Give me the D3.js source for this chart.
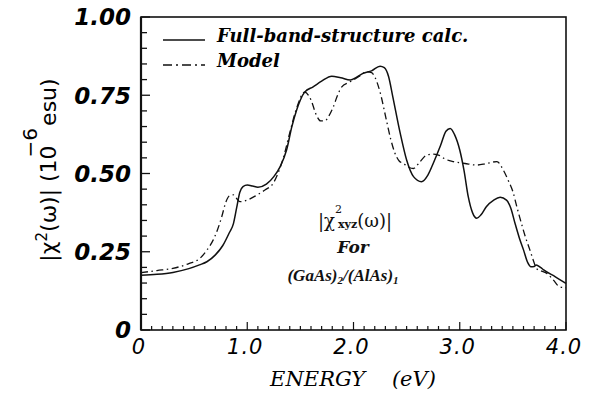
<!DOCTYPE html>
<html>
<head>
<meta charset="utf-8">
<script src="https://cdn.jsdelivr.net/npm/d3@7"></script>
<style>
body { margin: 0; background: #fff; }
svg { display: block; }
text { white-space: pre; }
</style>
</head>
<body>
<div id="graph"></div>
<script>
// energy (eV) and |chi2| (1e-6 esu)
const fullE = [0.00, 0.15, 0.30, 0.45, 0.55, 0.62, 0.70, 0.77, 0.83, 0.87, 0.90, 0.93, 0.96, 1.00, 1.05, 1.10, 1.18, 1.25, 1.31, 1.37, 1.42, 1.465, 1.50, 1.54, 1.62, 1.70, 1.795, 1.88, 1.97, 2.03, 2.09, 2.17, 2.25, 2.29, 2.33, 2.37, 2.44, 2.50, 2.565, 2.64, 2.70, 2.75, 2.82, 2.87, 2.91, 2.95, 3.00, 3.04, 3.08, 3.12, 3.16, 3.20, 3.25, 3.32, 3.38, 3.44, 3.48, 3.52, 3.56, 3.60, 3.64, 3.67, 3.70, 3.72, 3.76, 3.79, 3.90, 4.00];
const fullV = [0.175, 0.178, 0.184, 0.196, 0.208, 0.218, 0.240, 0.270, 0.310, 0.340, 0.390, 0.440, 0.458, 0.463, 0.460, 0.456, 0.466, 0.490, 0.522, 0.575, 0.650, 0.703, 0.735, 0.760, 0.777, 0.795, 0.811, 0.806, 0.799, 0.808, 0.820, 0.828, 0.843, 0.838, 0.810, 0.745, 0.628, 0.543, 0.490, 0.474, 0.495, 0.532, 0.590, 0.635, 0.644, 0.625, 0.575, 0.510, 0.426, 0.375, 0.357, 0.368, 0.394, 0.415, 0.424, 0.415, 0.390, 0.341, 0.295, 0.256, 0.215, 0.202, 0.203, 0.208, 0.200, 0.192, 0.170, 0.149];

const modelE = [0.00, 0.15, 0.30, 0.45, 0.555, 0.62, 0.68, 0.72, 0.76, 0.80, 0.83, 0.87, 0.90, 0.93, 1.00, 1.09, 1.17, 1.245, 1.30, 1.34, 1.40, 1.465, 1.54, 1.58, 1.60, 1.65, 1.69, 1.73, 1.77, 1.81, 1.85, 1.89, 1.95, 2.00, 2.06, 2.12, 2.17, 2.20, 2.25, 2.31, 2.35, 2.39, 2.43, 2.47, 2.52, 2.565, 2.62, 2.69, 2.75, 2.80, 2.87, 2.94, 3.05, 3.16, 3.25, 3.35, 3.41, 3.46, 3.50, 3.54, 3.58, 3.62, 3.66, 3.70, 3.72, 3.77, 3.82, 3.88, 3.94, 4.00];
const modelV = [0.183, 0.190, 0.197, 0.212, 0.229, 0.255, 0.288, 0.320, 0.362, 0.410, 0.428, 0.432, 0.420, 0.410, 0.415, 0.431, 0.448, 0.469, 0.510, 0.550, 0.630, 0.709, 0.760, 0.748, 0.735, 0.687, 0.668, 0.668, 0.685, 0.713, 0.750, 0.777, 0.790, 0.799, 0.812, 0.825, 0.822, 0.809, 0.760, 0.670, 0.610, 0.565, 0.540, 0.532, 0.520, 0.516, 0.535, 0.559, 0.562, 0.559, 0.545, 0.538, 0.532, 0.527, 0.532, 0.538, 0.511, 0.475, 0.442, 0.390, 0.341, 0.295, 0.256, 0.215, 0.197, 0.188, 0.181, 0.160, 0.138, 0.135];

const xTicks = [0, 1, 2, 3, 4];
const xTickLabels = ['0', '1.0', '2.0', '3.0', '4.0'];
const yTicks = [0, 0.25, 0.5, 0.75, 1.0];
const yTickLabels = ['0', '0.25', '0.50', '0.75', '1.00'];

const W = 597, H = 394;
const margin = {top: 17, right: 31, bottom: 64, left: 141};

const svg = d3.select('#graph')
  .append('svg')
  .attr('width', W)
  .attr('height', H);

const x = d3.scaleLinear().domain([0, 4]).range([margin.left, W - margin.right]);
const y = d3.scaleLinear().domain([0, 1]).range([H - margin.bottom, margin.top]);

// frame
svg.append('rect')
  .attr('x', x(0)).attr('y', y(1))
  .attr('width', x(4) - x(0)).attr('height', y(0) - y(1))
  .attr('fill', 'none').attr('stroke', '#111').attr('stroke-width', 1.6);

// bottom axis: minor ticks every 0.1, inward
const xAxis = svg.append('g').attr('transform', `translate(0,${y(0)})`);
xAxis.selectAll('line')
  .data(d3.range(0, 41).map(i => i / 10))
  .join('line')
  .attr('x1', d => x(d)).attr('x2', d => x(d))
  .attr('y1', 0)
  .attr('y2', (d, i) => i % 10 === 0 ? -8 : -4)
  .attr('stroke', '#111').attr('stroke-width', 1.2);
xAxis.selectAll('text')
  .data(xTicks)
  .join('text')
  .attr('x', d => x(d) - 2)
  .attr('y', 24)
  .attr('text-anchor', 'middle')
  .attr('font-family', 'DejaVu Sans')
  .attr('font-style', 'italic')
  .attr('font-size', 21)
  .attr('letter-spacing', 1)
  .text((d, i) => xTickLabels[i]);

// left axis: minor ticks every 0.05, inward
const yAxis = svg.append('g').attr('transform', `translate(${x(0)},0)`);
yAxis.append('line')
  .attr('y1', y(0)).attr('y2', y(1))
  .attr('stroke', '#111').attr('stroke-width', 2.2);
yAxis.selectAll('line.tk')
  .data(d3.range(0, 21).map(i => i / 20))
  .join('line')
  .attr('class', 'tk')
  .attr('y1', d => y(d)).attr('y2', d => y(d))
  .attr('x1', 0)
  .attr('x2', (d, i) => i % 5 === 0 ? 9 : 6)
  .attr('stroke', '#111').attr('stroke-width', 1.3);
yAxis.selectAll('text')
  .data(yTicks)
  .join('text')
  .attr('x', -10)
  .attr('y', d => y(d))
  .attr('dy', '0.36em')
  .attr('text-anchor', 'end')
  .attr('font-family', 'DejaVu Sans')
  .attr('font-weight', 'bold')
  .attr('font-style', 'italic')
  .attr('font-size', 23)
  .text((d, i) => yTickLabels[i]);

// curves
const line = d3.line()
  .x(d => x(d[0]))
  .y(d => y(d[1]))
  .curve(d3.curveMonotoneX);

svg.append('path')
  .datum(d3.zip(fullE, fullV))
  .attr('d', line)
  .attr('fill', 'none')
  .attr('stroke', '#111')
  .attr('stroke-width', 1.5);

svg.append('path')
  .datum(d3.zip(modelE, modelV))
  .attr('d', line)
  .attr('fill', 'none')
  .attr('stroke', '#111')
  .attr('stroke-width', 1.3)
  .attr('stroke-dasharray', '7,3.5,1.5,3.5');

// legend
const legend = svg.append('g').attr('font-family', 'DejaVu Serif')
  .attr('font-weight', 'bold').attr('font-style', 'italic').attr('font-size', 18);
legend.append('line')
  .attr('x1', 163).attr('x2', 205).attr('y1', 40).attr('y2', 40)
  .attr('stroke', '#111').attr('stroke-width', 1.4);
legend.append('text').attr('x', 217).attr('y', 42).text('Full-band-structure calc.');
legend.append('line')
  .attr('x1', 163).attr('x2', 205).attr('y1', 65).attr('y2', 65)
  .attr('stroke', '#111').attr('stroke-width', 1.4)
  .attr('stroke-dasharray', '9,4,2,4');
legend.append('text').attr('x', 217).attr('y', 67).text('Model');

// annotation
const note = svg.append('g').attr('font-family', 'DejaVu Serif').attr('text-anchor', 'middle')
  .attr('fill', '#111');
const t1 = note.append('text').attr('x', 355).attr('y', 227).attr('font-size', 18);
t1.append('tspan').text('|χ');
t1.append('tspan').attr('font-size', 11).attr('dy', -14).text('2');
t1.append('tspan').attr('font-size', 11).attr('font-weight', 'bold').attr('dy', 15).attr('dx', -4).text('xyz');
t1.append('tspan').attr('dy', -1).text('(ω)|');
note.append('text').attr('x', 353).attr('y', 253)
  .attr('font-size', 17).attr('font-weight', 'bold').attr('font-style', 'italic').text('For');
const t3 = note.append('text').attr('x', 343).attr('y', 281)
  .attr('font-family', 'Liberation Serif')
  .attr('font-size', 17).attr('font-style', 'italic').attr('font-weight', 'bold');
t3.append('tspan').text('(GaAs)');
t3.append('tspan').attr('font-size', 11).attr('dy', 3).text('2');
t3.append('tspan').attr('dy', -3).text('/(AlAs)');
t3.append('tspan').attr('font-size', 11).attr('dy', 3).text('1');

// axis titles
svg.append('text')
  .attr('x', 353).attr('y', 386)
  .attr('text-anchor', 'middle')
  .attr('font-family', 'DejaVu Serif')
  .attr('font-style', 'italic')
  .attr('font-size', 21)
  .text('ENERGY    (eV)');

const yl = svg.append('text')
  .attr('transform', 'translate(56,170) rotate(-90)')
  .attr('text-anchor', 'middle')
  .attr('font-family', 'DejaVu Sans')
  .attr('font-size', 22);
yl.append('tspan').text('|χ');
yl.append('tspan').attr('font-size', 15).attr('dy', -9).text('2');
yl.append('tspan').attr('dy', 9).text('(ω)| (10');
yl.append('tspan').attr('font-size', 20).attr('dy', -19).attr('dx', -12).text('−6');
yl.append('tspan').attr('dy', 19).attr('dx', 2).text('esu)');
</script>
</body>
</html>
